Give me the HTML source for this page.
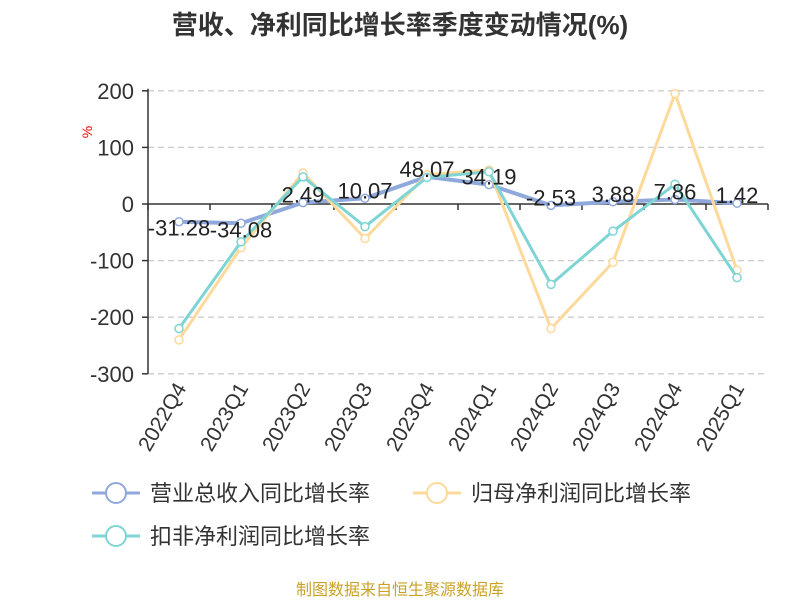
<!DOCTYPE html>
<html><head><meta charset="utf-8"><style>
body{margin:0;background:#fff;width:800px;height:600px;overflow:hidden;font-family:"Liberation Sans","Noto Sans CJK SC",sans-serif}
</style></head><body>
<svg width="800" height="600" xmlns="http://www.w3.org/2000/svg">
<text x="400" y="34" text-anchor="middle" font-size="26" font-weight="bold" fill="#333" font-family="Liberation Sans, Noto Sans CJK SC, sans-serif">营收、净利同比增长率季度变动情况(%)</text>
<text x="92" y="132" fill="red" font-size="14" transform="rotate(-90 92 132)" text-anchor="middle">%</text>
<g id="grid"></g><g id="axes"></g><g id="series"></g><g id="labels"></g>
<g id="legend"></g>
<text x="400" y="595" text-anchor="middle" font-size="16" fill="#c9a227" font-family="Liberation Sans, Noto Sans CJK SC, sans-serif">制图数据来自恒生聚源数据库</text>
</svg>
<script>
const categories=["2022Q4","2023Q1","2023Q2","2023Q3","2023Q4","2024Q1","2024Q2","2024Q3","2024Q4","2025Q1"];
const revenue=[-31.28,-34.08,2.49,10.07,48.07,34.19,-2.53,3.88,7.86,1.42];
const netProfit=[-240,-77,55,-61,52,60,-220,-103,195,-117];
const deducted=[-220,-67,48,-40,47,57,-142,-48,35,-130];
const yTicks=[200,100,0,-100,-200,-300];
const NS="http://www.w3.org/2000/svg";
const X0=148,X1=768,bw=(X1-X0)/categories.length;
const x=i=>X0+bw*(i+0.5);
const y=v=>204-v*0.566;
function mk(t,a,p){const e=document.createElementNS(NS,t);for(const k in a)e.setAttribute(k,a[k]);p.appendChild(e);return e;}
const grid=document.getElementById('grid'),axes=document.getElementById('axes');
yTicks.forEach(t=>{
 if(t!==0){const l=mk('line',{x1:X0,x2:X1,y1:y(t),y2:y(t),stroke:'#ccc','stroke-dasharray':'6,4','stroke-width':1.3},grid);
 
 }
 const tk=mk('line',{x1:X0-6,x2:X0,y1:y(t),y2:y(t),stroke:'#333','stroke-width':1.5},axes);
 
 
 const tx=mk('text',{x:X0-14,y:y(t)+8,'text-anchor':'end','font-size':22,fill:'#333'},axes);tx.textContent=t;
 
 
});
const ya=mk('line',{x1:X0,x2:X0,y1:y(200)-2,y2:y(-300),stroke:'#333','stroke-width':1.5},axes);


const xa=mk('line',{x1:X0,x2:X1,y1:y(0),y2:y(0),stroke:'#333','stroke-width':1.5},axes);


for(let i=0;i<=categories.length;i++){const t=mk('line',{x1:X0+bw*i,x2:X0+bw*i,y1:y(0),y2:y(0)+6,stroke:'#333','stroke-width':1.5},axes);
 
 }
categories.forEach((c,i)=>{const t=mk('text',{x:x(i)+8,y:388,'text-anchor':'end','font-size':21,fill:'#333',transform:`rotate(-60 ${x(i)+8} 388)`},axes);t.textContent=c;
 
 });
const S=document.getElementById('series');
function series(data,color,w,name){
 const p=mk('polyline',{points:data.map((v,i)=>x(i)+','+y(v)).join(' '),fill:'none',stroke:color,'stroke-width':w,'stroke-linejoin':'round'},S);
 
 
 data.forEach((v,i)=>{const c=mk('circle',{cx:x(i),cy:y(v),r:4,fill:'#fff',stroke:color,'stroke-width':1.5},S);
  
  });
}
series(revenue,'#8fa9dc',4,'revenue');
series(netProfit,'#fdd99b',3,'net-profit');
series(deducted,'#7fd4d4',3,'deducted-profit');
const L=document.getElementById('labels');
revenue.forEach((v,i)=>{const t=mk('text',{x:x(i),y:y(v)+(i===0||i===1?14:0),'text-anchor':'middle','font-size':22,fill:'#222'},L);t.textContent=v.toFixed(2);
 
 });
const G=document.getElementById('legend');
[[92,493,'#8fa9dc','营业总收入同比增长率'],[413,493,'#fdd99b','归母净利润同比增长率'],[92,536,'#7fd4d4','扣非净利润同比增长率']].forEach(([lx,ly,c,n])=>{
 const g=mk('g',{},G);
 
 
 mk('line',{x1:lx,x2:lx+48,y1:ly,y2:ly,stroke:c,'stroke-width':3},g);
 mk('circle',{cx:lx+24,cy:ly,r:10,fill:'#fff',stroke:c,'stroke-width':2},g);
 const t=mk('text',{x:lx+58,y:ly+8,'font-size':22,fill:'#333'},g);t.textContent=n;
});
</script>
</body></html>
